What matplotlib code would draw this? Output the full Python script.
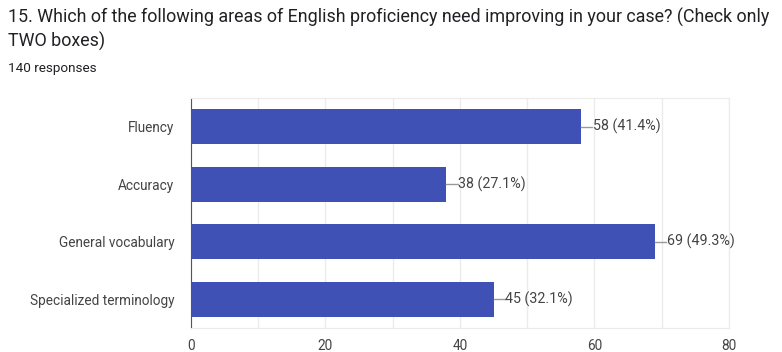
import numpy as np
import matplotlib.pyplot as plt

plt.rcParams['font.family'] = ['Roboto', 'DejaVu Sans']

categories = ['Fluency', 'Accuracy', 'General vocabulary', 'Specialized terminology']
counts = [58, 38, 69, 45]
percents = [41.4, 27.1, 49.3, 32.1]
xticks = [0, 20, 40, 60, 80]

fig = plt.figure(figsize=(7.82, 3.52), dpi=100)
ax = fig.add_axes([0.2442, 0.068, 0.932 - 0.2442, 0.722 - 0.068])

y = np.arange(len(categories))
ax.barh(y, counts, height=0.61, color='#3f51b5', zorder=3)

# leader line + value label at the end of each bar
for yi, c, p in zip(y, counts, percents):
    ax.plot([c, c + 1.7], [yi, yi], color='#999999', lw=1, zorder=3)
    ax.text(c + 1.75, yi, '%d (%.1f%%)' % (c, p), va='center', ha='left',
            fontsize=10.3, color='#444444')

ax.set_xlim(0, 80)
ax.set_ylim(len(categories) - 0.5, -0.5)
ax.set_yticks(y)
ax.set_yticklabels(categories, fontsize=9.8, color='#444444')
ax.set_xticks(xticks)
ax.set_xticklabels([str(t) for t in xticks], fontsize=9.8, color='#444444')
ax.set_xticks(np.arange(10, 80, 20), minor=True)
ax.grid(axis='x', which='both', color='#ebebeb', lw=1, zorder=0)
ax.tick_params(length=0, pad=8, which='both')
ax.tick_params(axis='y', pad=12)

for s in ['top', 'right', 'bottom']:
    ax.spines[s].set_color('#ebebeb')
ax.spines['left'].set_color('#555555')

fig.text(0.01, 0.9347, '15. Which of the following areas of English proficiency need improving in your case? (Check only',
         fontsize=12.9, color='#202124', va='baseline')
fig.text(0.01, 0.8665, 'TWO boxes)', fontsize=12.9, color='#202124', va='baseline')
fig.text(0.01, 0.795, '140 responses', fontsize=9.7, color='#202124', va='baseline')

fig.savefig('out.png', dpi=100)
